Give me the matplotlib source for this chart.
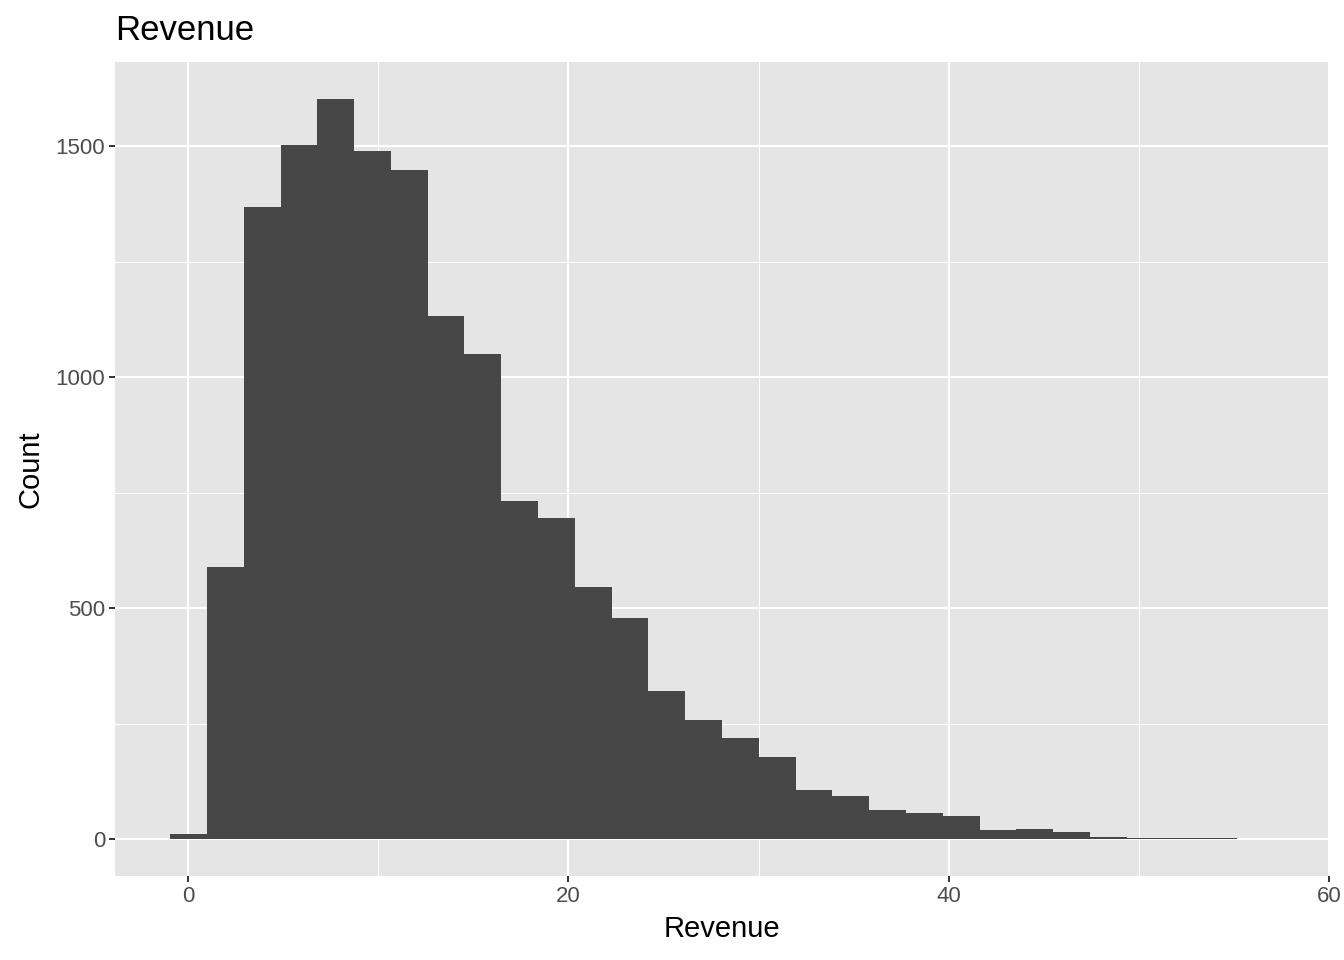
import matplotlib
matplotlib.use("Agg")
import matplotlib.pyplot as plt
from matplotlib.ticker import MultipleLocator

# Histogram of Revenue, 30 bins (counts)
BIN_START = -0.95
BIN_WIDTH = 1.935
counts = [11, 589, 1368, 1502, 1602, 1489, 1448, 1132, 1050, 732,
          695, 545, 478, 320, 258, 219, 177, 106, 93, 63,
          56, 50, 19, 22, 15, 4, 2, 2, 2, 1]

x_ticks = [0, 20, 40, 60]
y_ticks = [0, 500, 1000, 1500]

PANEL = "#E5E5E5"
BAR = "#474747"
TICK_TXT = "#4D4D4D"
TICK_LINE = "#333333"

plt.rcParams["font.family"] = ["Liberation Sans", "DejaVu Sans"]

fig = plt.figure(figsize=(13.44, 9.6), dpi=100)
ax = fig.add_axes([115 / 1344, 1 - 876 / 960, (1329 - 115) / 1344, (876 - 62) / 960])
ax.set_facecolor(PANEL)

lefts = [BIN_START + i * BIN_WIDTH for i in range(len(counts))]
ax.bar(lefts, counts, width=BIN_WIDTH, align="edge", color=BAR,
       edgecolor="none", linewidth=0, zorder=3)

xmin, xmax = BIN_START, BIN_START + BIN_WIDTH * len(counts)
xpad = (xmax - xmin) * 0.05
ax.set_xlim(xmin - xpad, xmax + xpad)
ypad = max(counts) * 0.05
ax.set_ylim(-ypad, max(counts) + ypad)

ax.set_xticks(x_ticks)
ax.set_yticks(y_ticks)
ax.xaxis.set_minor_locator(MultipleLocator(10))
ax.yaxis.set_minor_locator(MultipleLocator(250))
ax.grid(which="major", color="white", linewidth=1.5, zorder=1)
ax.grid(which="minor", color="white", linewidth=0.75, zorder=1)
ax.set_axisbelow(True)

for s in ax.spines.values():
    s.set_visible(False)

ax.tick_params(which="major", length=4, width=1.4, color=TICK_LINE,
               labelsize=16, labelcolor=TICK_TXT, pad=3)
ax.tick_params(which="minor", length=0)

ax.set_xlabel("Revenue", fontsize=21, color="black", labelpad=6)
ax.set_ylabel("Count", fontsize=21, color="black", labelpad=8)
ax.set_title("Revenue", fontsize=25, loc="left", color="black", pad=16)

fig.savefig("out.png", dpi=100, facecolor="white")
